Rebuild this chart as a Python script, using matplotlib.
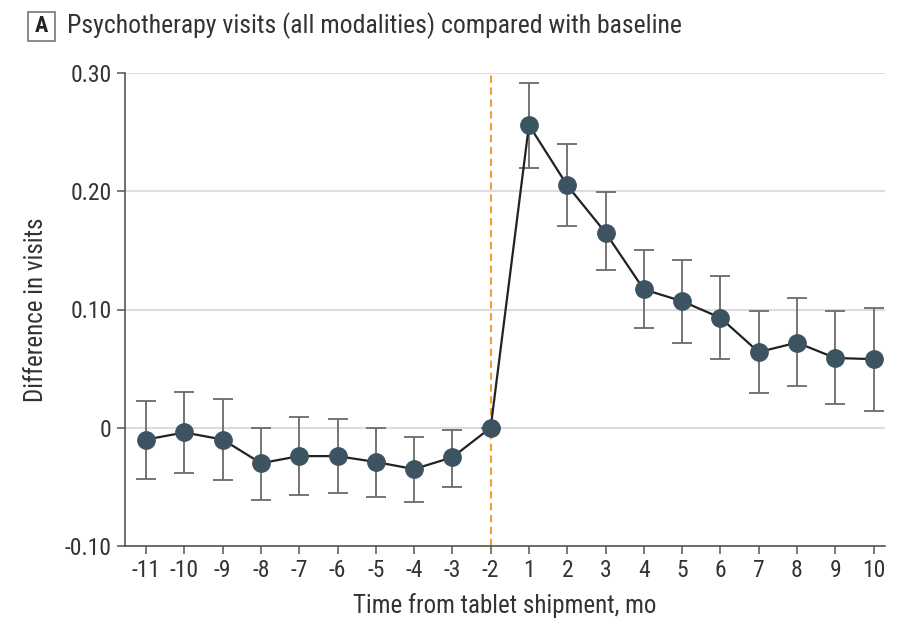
import matplotlib
matplotlib.use("Agg")
import matplotlib.pyplot as plt
from matplotlib.patches import Rectangle

plt.rcParams['font.family'] = ['Roboto Condensed', 'Barlow Semi Condensed', 'DejaVu Sans']

months = ["-11", "-10", "-9", "-8", "-7", "-6", "-5", "-4", "-3", "-2",
          "1", "2", "3", "4", "5", "6", "7", "8", "9", "10"]
estimate = [-0.010, -0.004, -0.010, -0.030, -0.024, -0.024, -0.029, -0.035, -0.025, 0.0,
            0.256, 0.205, 0.165, 0.117, 0.107, 0.093, 0.064, 0.072, 0.059, 0.058]
ci_upper = [0.023, 0.030, 0.024, 0.000, 0.009, 0.007, 0.000, -0.008, -0.002, 0.0,
            0.292, 0.240, 0.199, 0.150, 0.142, 0.128, 0.099, 0.110, 0.099, 0.101]
ci_lower = [-0.043, -0.038, -0.044, -0.061, -0.057, -0.055, -0.059, -0.063, -0.050, 0.0,
            0.220, 0.171, 0.133, 0.084, 0.072, 0.058, 0.029, 0.035, 0.020, 0.014]
shipment_month = "-2"

x = list(range(len(months)))
fig = plt.figure(figsize=(9.04, 6.19), dpi=100)
ax = fig.add_axes([0.1383, 0.118, 0.8407, 0.764])

yerr = [[e - l for e, l in zip(estimate, ci_lower)], [u - e for e, u in zip(estimate, ci_upper)]]
ax.errorbar(x, estimate, yerr=yerr, fmt='none', ecolor='#6a6a6a', elinewidth=1.3,
            capsize=7, capthick=1.3, zorder=3)
ax.plot(x, estimate, color='#222222', lw=1.6, zorder=4)
ax.plot(x, estimate, 'o', color='#3c5361', ms=12.5, zorder=5)

ax.axvline(months.index(shipment_month), color='#f0a030', ls=(0, (3.5, 2.2)), lw=1.5, zorder=2)

ax.set_xlim(-0.55, len(months) - 1 + 0.3)
ax.set_ylim(-0.10, 0.30)
ax.set_yticks([-0.10, 0, 0.10, 0.20, 0.30])
ax.set_yticklabels(["-0.10", "0", "0.10", "0.20", "0.30"])
ax.set_xticks(x)
ax.set_xticklabels(months)
ax.yaxis.grid(True, color='#dddddd', lw=1.5, zorder=0)
ax.set_axisbelow(True)
for s in ['top', 'right']:
    ax.spines[s].set_visible(False)
for s in ['left', 'bottom']:
    ax.spines[s].set_color('#555555')
    ax.spines[s].set_linewidth(1.2)
ax.tick_params(axis='both', labelsize=17, colors='#555555', length=6, width=1.1)
ax.tick_params(axis='both', labelcolor='#333333')
ax.set_xlabel("Time from tablet shipment, mo", fontsize=18, color='#333333', labelpad=8)
ax.set_ylabel("Difference in visits", fontsize=18, color='#333333', labelpad=12)

fig.patches.append(Rectangle((28/904, 1 - 41/619), 27/904, 29/619, transform=fig.transFigure,
                             fill=False, ec='#777777', lw=1.2))
fig.text(41.5/904, 1 - 26.5/619, "A", fontsize=16, fontweight='bold', ha='center', va='center', color='#222222')
fig.text(67/904, 1 - 26/619, "Psychotherapy visits (all modalities) compared with baseline",
         fontsize=18.5, ha='left', va='center', color='#333333')

fig.savefig("out.png", dpi=100)
